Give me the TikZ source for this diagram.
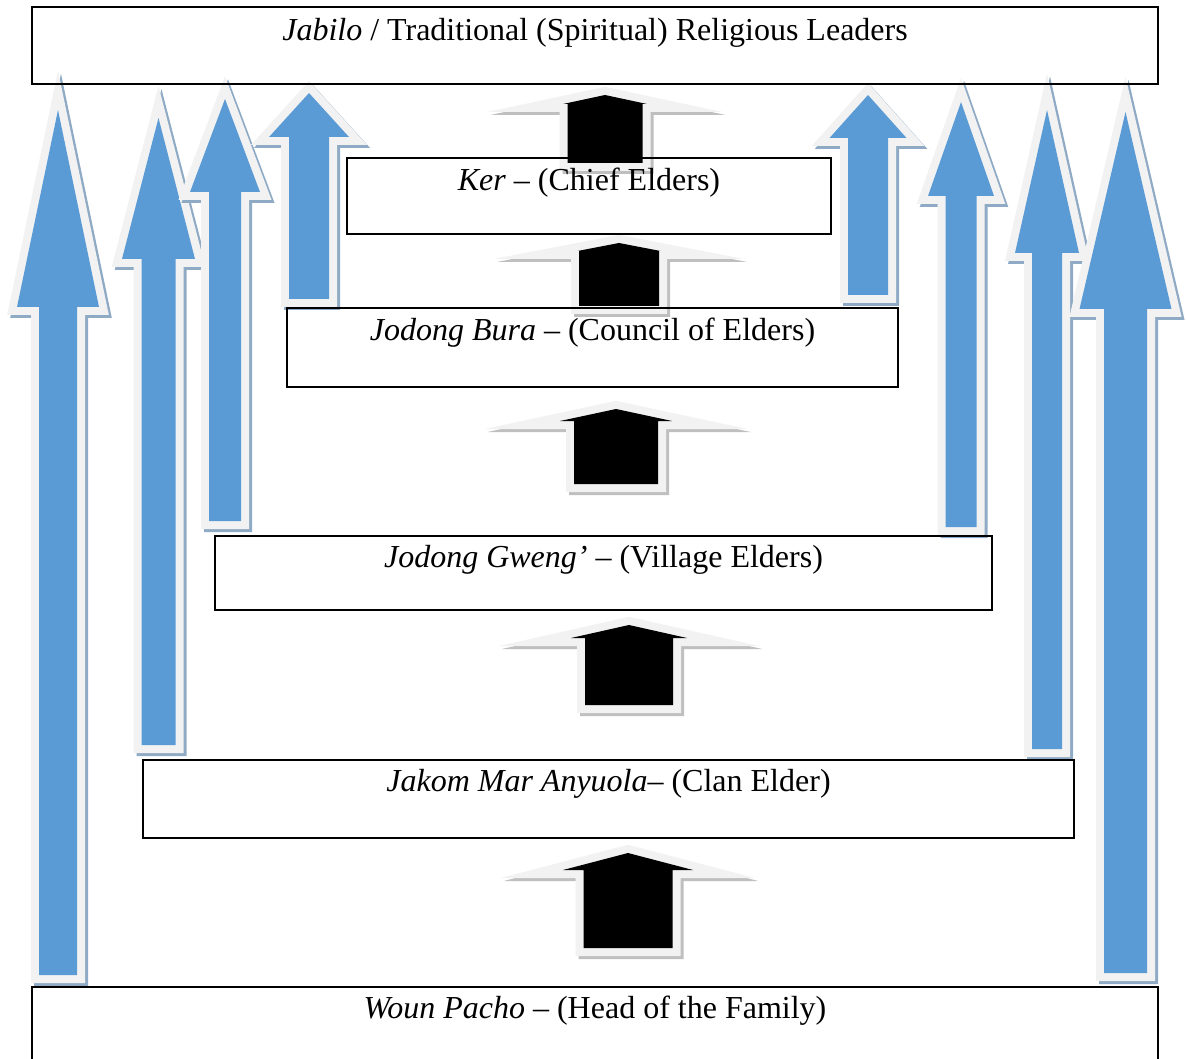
\documentclass[tikz,border=0pt]{standalone}
\usepackage{fontspec}
\setmainfont{Liberation Serif}
\usetikzlibrary{fit}
\definecolor{arrowblue}{HTML}{5B9BD5}
\definecolor{glowgray}{HTML}{F2F2F2}
\definecolor{blueshade}{HTML}{8FAAC4}
\definecolor{blackshade}{HTML}{BFBFBF}
\tikzset{
  tierbox/.style={draw, line width=1.3pt, inner sep=0pt},
  tiertext/.style={anchor=base, inner sep=0pt, font=\fontsize{16}{19}\selectfont},
  glow/.style={line width=8pt, line join=miter, miter limit=30},
  arrowshape/.style n args={6}{insert path={(#1,#2) -- (#1+#4,#3) -- (#1+#5,#3) -- (#1+#5,#6) -- (#1-#5,#6) -- (#1-#5,#3) -- (#1-#4,#3) -- cycle}},
}
\newcommand{\blockarrow}[3]{%
  \filldraw[glow, #3, shift={(3,3)}, arrowshape=#1];
  \filldraw[glow, glowgray, arrowshape=#1];
  \fill[#2, arrowshape=#1];
}
\begin{document}
\begin{tikzpicture}[x=0.5pt, y=-0.5pt]
  \useasboundingbox (0,0) rectangle (1186,1058);
  \clip (0,0) rectangle (1186,1058);
  \blockarrow{{58}{110}{307}{41}{19}{975}}{arrowblue}{blueshade}
  \blockarrow{{158.5}{118}{259}{36.5}{17}{745}}{arrowblue}{blueshade}
  \blockarrow{{225}{99}{192}{35}{16}{521}}{arrowblue}{blueshade}
  \blockarrow{{309}{93}{137}{40}{20}{299}}{arrowblue}{blueshade}
  \blockarrow{{868}{95}{138}{38.5}{20}{295}}{arrowblue}{blueshade}
  \blockarrow{{961}{102}{196}{33}{15.5}{527}}{arrowblue}{blueshade}
  \blockarrow{{1047}{110}{253}{32}{15}{749}}{arrowblue}{blueshade}
  \blockarrow{{1125.5}{112}{309}{46}{21.5}{973}}{arrowblue}{blueshade}
  \blockarrow{{605}{95}{104}{42}{37.5}{163}}{black}{blackshade}
  \blockarrow{{619}{243}{251}{41.5}{40}{306}}{black}{blackshade}
  \blockarrow{{616}{409}{421}{56}{42}{484}}{black}{blackshade}
  \blockarrow{{629}{625}{638}{58}{44}{705}}{black}{blackshade}
  \blockarrow{{628}{853}{870}{65}{44.5}{948}}{black}{blackshade}
  \node[tierbox, fit={(32,7) (1158,84)}] (jabilo) {};
  \node[tierbox, fit={(347,158) (831,234)}] (ker) {};
  \node[tierbox, fit={(287,308) (898,387)}] (bura) {};
  \node[tierbox, fit={(215,536) (992,610)}] (gweng) {};
  \node[tierbox, fit={(143,760) (1074,838)}] (jakom) {};
  \node[tierbox, fit={(32,987) (1158,1080)}] (pacho) {};
  \node[tiertext] at ([yshift=-17.5pt]jabilo.north) {\textit{Jabilo} / Traditional (Spiritual) Religious Leaders};
  \node[tiertext] at ([yshift=-17pt]ker.north) {\textit{Ker} – (Chief Elders)};
  \node[tiertext] at ([yshift=-17pt]bura.north) {\textit{Jodong Bura} – (Council of Elders)};
  \node[tiertext] at ([yshift=-16.5pt]gweng.north) {\textit{Jodong Gweng’} – (Village Elders)};
  \node[tiertext] at ([yshift=-16.5pt]jakom.north) {\textit{Jakom Mar Anyuola}– (Clan Elder)};
  \node[tiertext] at ([yshift=-16.5pt]pacho.north) {\textit{Woun Pacho} – (Head of the Family)};
\end{tikzpicture}
\end{document}
